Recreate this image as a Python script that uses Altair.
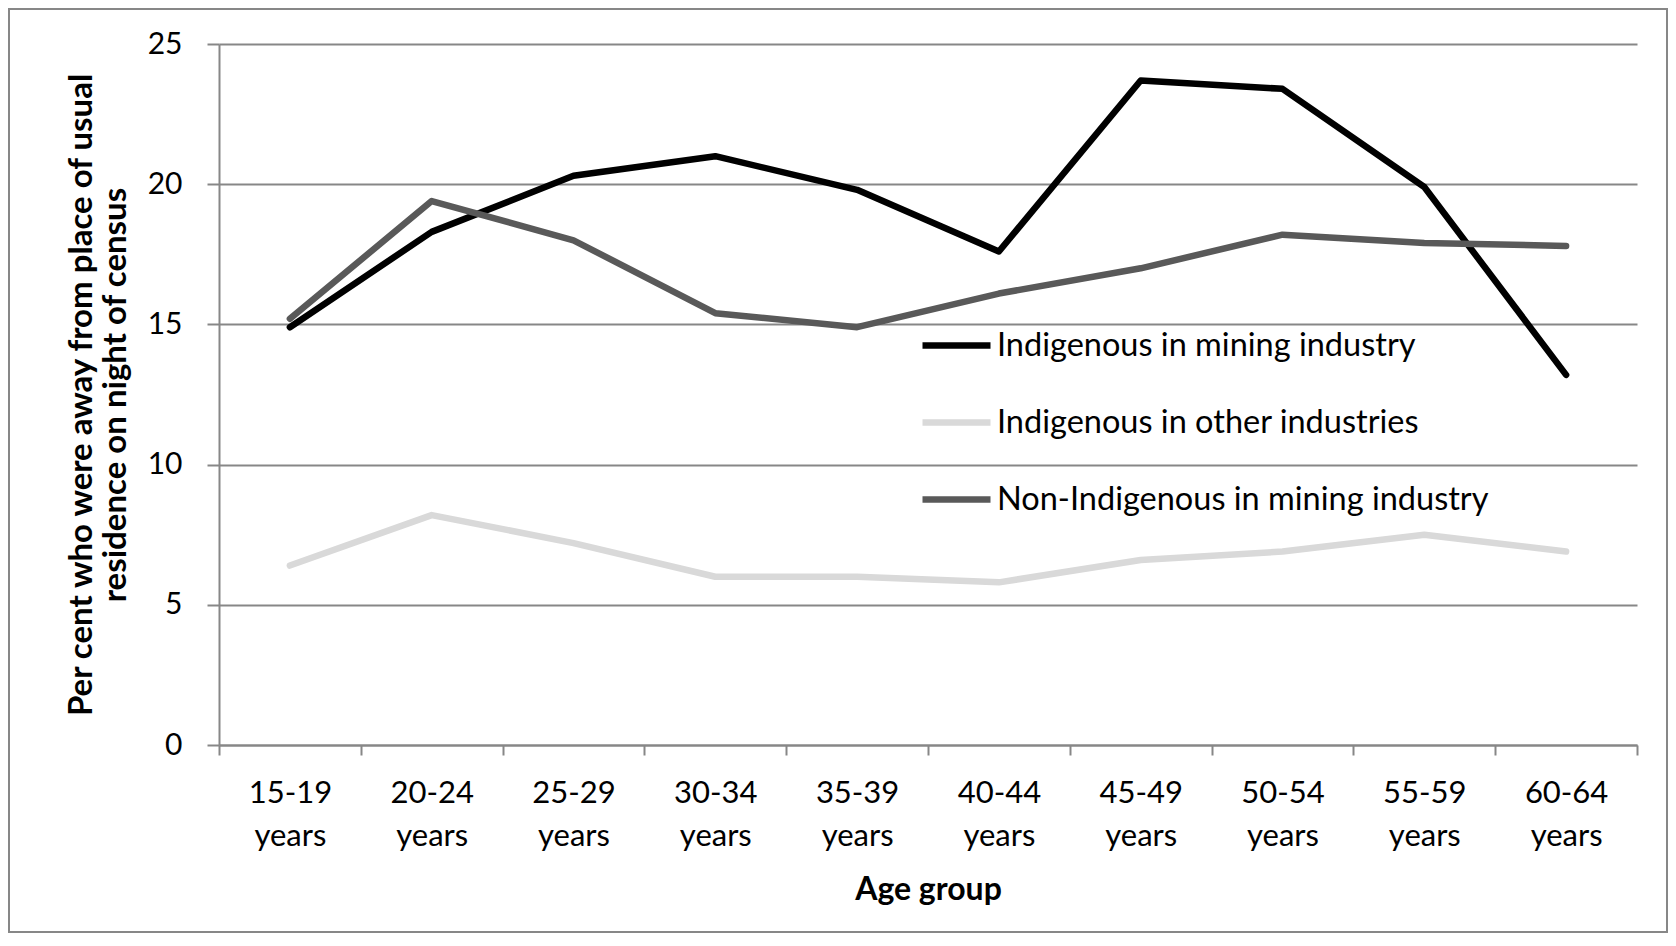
import altair as alt
import pandas as pd

age_groups = ["15-19 years", "20-24 years", "25-29 years", "30-34 years", "35-39 years",
              "40-44 years", "45-49 years", "50-54 years", "55-59 years", "60-64 years"]
series_names = ["Indigenous in mining industry",
                "Indigenous in other industries",
                "Non-Indigenous in mining industry"]
indigenous_mining = [14.9, 18.3, 20.3, 21.0, 19.8, 17.6, 23.7, 23.4, 19.9, 13.2]
indigenous_other = [6.4, 8.2, 7.2, 6.0, 6.0, 5.8, 6.6, 6.9, 7.5, 6.9]
non_indigenous_mining = [15.2, 19.4, 18.0, 15.4, 14.9, 16.1, 17.0, 18.2, 17.9, 17.8]
series_colors = ["#000000", "#d9d9d9", "#595959"]
y_ticks = [0, 5, 10, 15, 20, 25]
y_title = ["Per cent who were away from place  of usual", "residence on night of census"]
x_title = "Age group"

rows = []
for name, vals in zip(series_names, [indigenous_mining, indigenous_other, non_indigenous_mining]):
    for a, v in zip(age_groups, vals):
        rows.append({"age": a, "series": name, "value": v})
df = pd.DataFrame(rows)

W, H = 1418, 701
GRID = "#878787"
FONT = "Lato"

lines = alt.Chart(df).mark_line(strokeWidth=6.5, strokeCap="round", strokeJoin="round").encode(
    x=alt.X("age:N", sort=age_groups,
            scale=alt.Scale(type="band", paddingInner=0, paddingOuter=0),
            axis=alt.Axis(title=x_title, tickBand="extent", grid=False,
                          labelExpr="split(datum.label, ' ')", labelAngle=0,
                          labelBaseline="middle", labelLineHeight=43, labelPadding=38,
                          labelOverlap=False, labelFontSize=31, labelFont=FONT, labelColor="#000000",
                          tickSize=10, tickWidth=2, tickColor=GRID,
                          domainColor=GRID, domainWidth=2,
                          titleFont=FONT, titleFontSize=32, titleFontWeight="bold", titleColor="#000000",
                          titleBaseline="middle", titleY=144)),
    y=alt.Y("value:Q", scale=alt.Scale(domain=[0, 25], nice=False, zero=True),
            axis=alt.Axis(title=y_title, values=y_ticks, grid=True, gridColor=GRID, gridWidth=2,
                          domainColor=GRID, domainWidth=2,
                          tickSize=12, tickWidth=2, tickColor=GRID,
                          labelPadding=25, labelFontSize=30, labelFont=FONT, labelColor="#000000",
                          titleFont=FONT, titleFontSize=33, titleFontWeight="bold", titleColor="#000000",
                          titleLineHeight=34, titleBaseline="middle", titleX=-138, titleAngle=-90)),
    color=alt.Color("series:N", sort=series_names,
                    scale=alt.Scale(domain=series_names, range=series_colors),
                    legend=alt.Legend(title=None, orient="none", legendX=700, legendY=264,
                                      symbolType="stroke", symbolSize=4624, symbolStrokeWidth=6.5,
                                      labelFont=FONT, labelFontSize=32.5, labelColor="#000000",
                                      labelLimit=700, labelOffset=3, rowPadding=23, padding=0)),
)

border = alt.Chart(alt.Data(values=[{}])).mark_rect(
    fill="#ffffff", fillOpacity=0, stroke=GRID, strokeWidth=2
).encode(x=alt.value(-210), x2=alt.value(1448), y=alt.value(-35), y2=alt.value(888))

chart = alt.layer(border, lines).properties(
    width=W, height=H, autosize="none",
    padding={"left": 211, "top": 36, "right": 31, "bottom": 189},
    background="#ffffff",
).configure_view(strokeWidth=0)

chart.save("out.html", embed_options={"renderer": "svg", "actions": False})
